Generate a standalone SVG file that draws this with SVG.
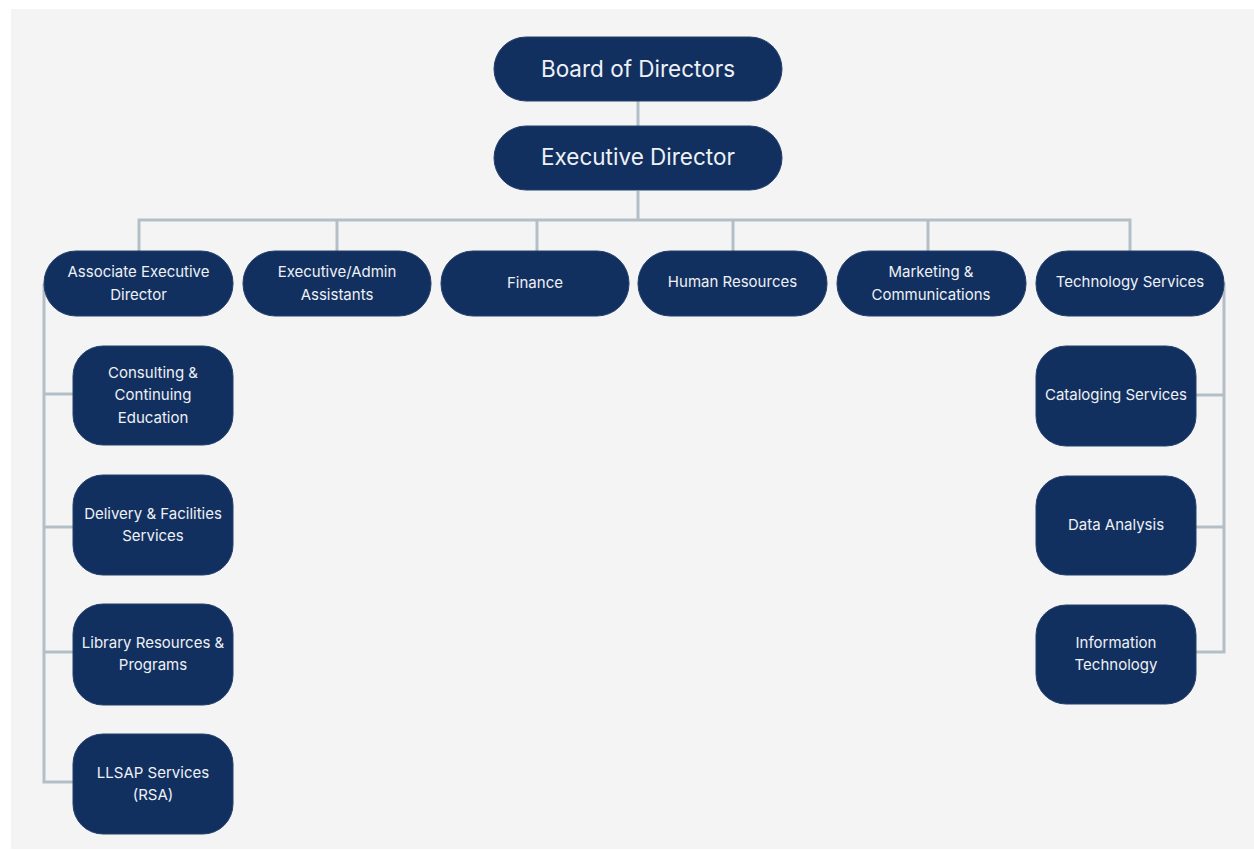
<svg xmlns="http://www.w3.org/2000/svg" width="1254" height="850" viewBox="0 0 1254 850">
<style>
.n{fill:#12305f;stroke:#25406c;stroke-width:1}
.t{fill:#eef1f6;font-family:Inter,"Open Sans","Liberation Sans",sans-serif;font-size:15px;text-anchor:middle}
.tb{font-size:22.5px}
.c{fill:none;stroke:#b3bfc7;stroke-width:3}
</style>
<rect width="1254" height="850" fill="#ffffff"/>
<rect x="11" y="9" width="1243" height="840" fill="#f4f4f4"/>
<g id="connectors" class="c">
<path d="M638 101V126"/>
<path d="M638 191V220"/>
<path d="M139 251V220H1130V251"/>
<path d="M337 220V251M537 220V251M733 220V251M928 220V251"/>
<path d="M44 284V782H73M44 394H73M44 527H73M44 652H73"/>
<path d="M1196 284H1224V652H1196M1196 395H1224M1196 527H1224"/>
</g>
<g id="board"><rect class="n" x="494" y="37" width="288" height="64" rx="32"/><text class="t tb" x="638" y="77">Board of Directors</text></g>
<g id="exec-director"><rect class="n" x="494" y="126" width="288" height="64" rx="32"/><text class="t tb" x="638" y="165">Executive Director</text></g>
<g id="assoc-exec"><rect class="n" x="44" y="251" width="189" height="65" rx="32"/><text class="t" x="138.5" y="277">Associate Executive</text><text class="t" x="138.5" y="300">Director</text></g>
<g id="exec-admin"><rect class="n" x="243" y="251" width="188" height="65" rx="32"/><text class="t" x="337" y="277">Executive/Admin</text><text class="t" x="337" y="300">Assistants</text></g>
<g id="finance"><rect class="n" x="441" y="251" width="188" height="65" rx="32"/><text class="t" x="535" y="288">Finance</text></g>
<g id="hr"><rect class="n" x="638" y="251" width="189" height="65" rx="32"/><text class="t" x="732.5" y="287">Human Resources</text></g>
<g id="marketing"><rect class="n" x="837" y="251" width="189" height="65" rx="32"/><text class="t" x="931" y="277">Marketing &amp;</text><text class="t" x="931" y="300">Communications</text></g>
<g id="tech-services"><rect class="n" x="1036" y="251" width="188" height="65" rx="32"/><text class="t" x="1130" y="287">Technology Services</text></g>
<g id="consulting"><rect class="n" x="73" y="346" width="160" height="99" rx="30"/><text class="t" x="153" y="378">Consulting &amp;</text><text class="t" x="153" y="400">Continuing</text><text class="t" x="153" y="423">Education</text></g>
<g id="delivery"><rect class="n" x="73" y="475" width="160" height="100" rx="30"/><text class="t" x="153" y="519">Delivery &amp; Facilities</text><text class="t" x="153" y="541">Services</text></g>
<g id="library"><rect class="n" x="73" y="604" width="160" height="101" rx="30"/><text class="t" x="153" y="648">Library Resources &amp;</text><text class="t" x="153" y="670">Programs</text></g>
<g id="llsap"><rect class="n" x="73" y="734" width="160" height="100" rx="30"/><text class="t" x="153" y="778">LLSAP Services</text><text class="t" x="153" y="800">(RSA)</text></g>
<g id="cataloging"><rect class="n" x="1036" y="346" width="160" height="100" rx="30"/><text class="t" x="1116" y="400">Cataloging Services</text></g>
<g id="data-analysis"><rect class="n" x="1036" y="476" width="160" height="99" rx="30"/><text class="t" x="1116" y="530">Data Analysis</text></g>
<g id="info-tech"><rect class="n" x="1036" y="605" width="160" height="99" rx="30"/><text class="t" x="1116" y="648">Information</text><text class="t" x="1116" y="670">Technology</text></g>
</svg>
